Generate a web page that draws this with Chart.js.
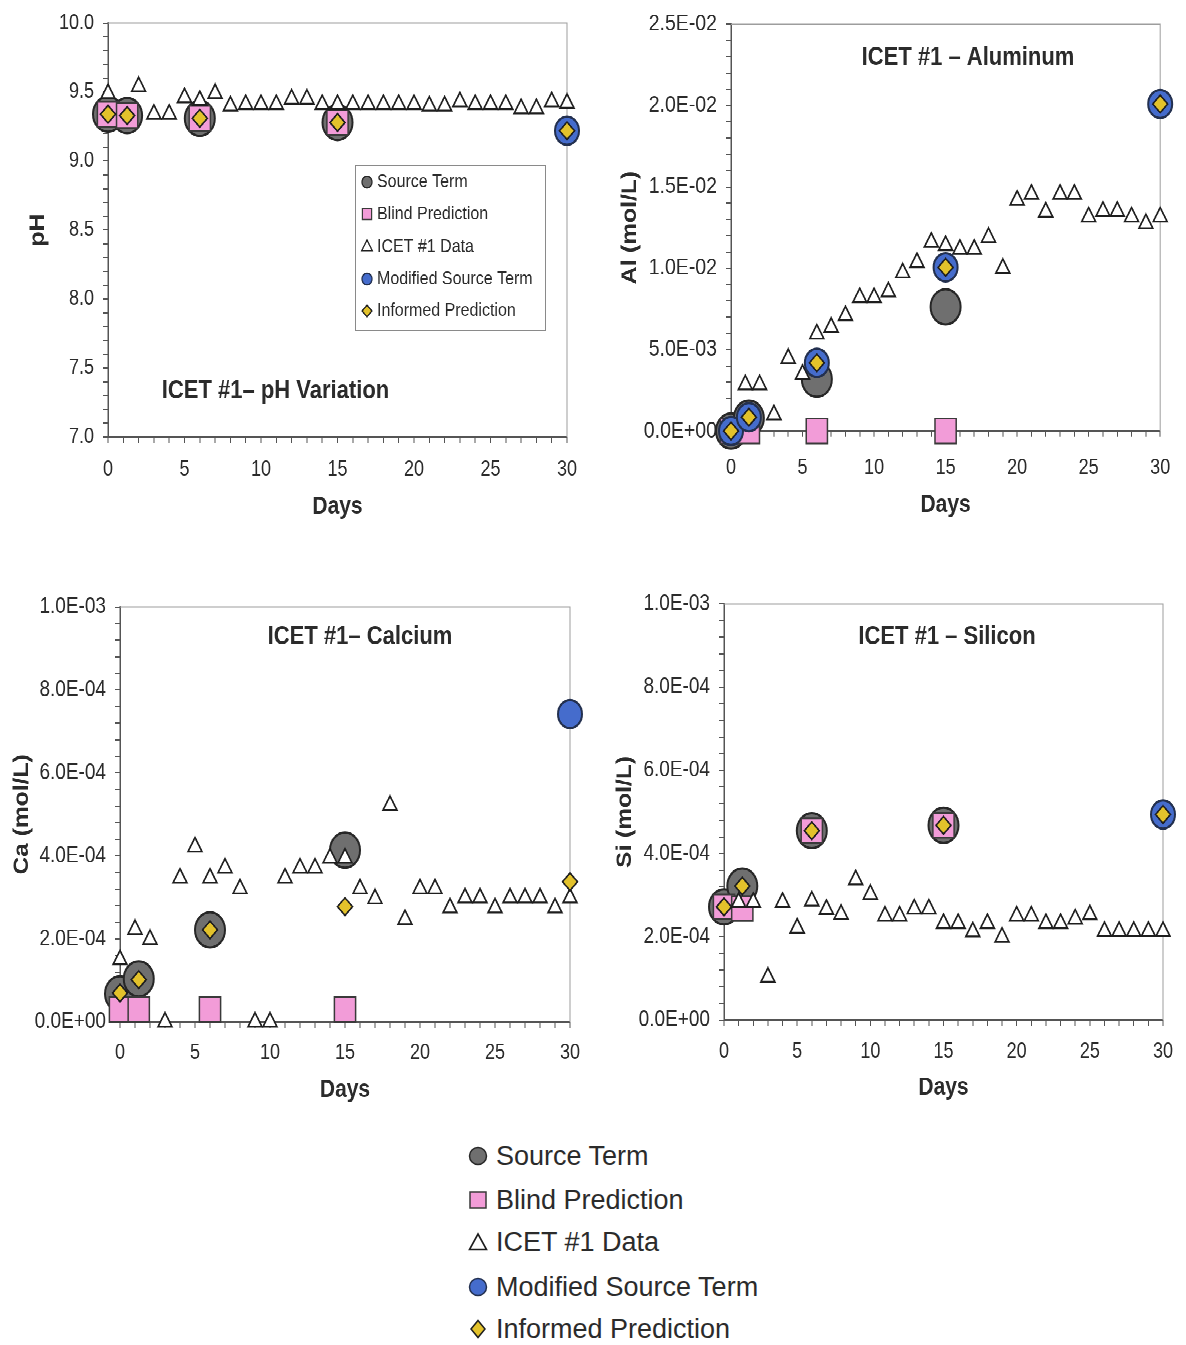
<!DOCTYPE html>
<html>
<head>
<meta charset="utf-8">
<title>ICET #1 – Chemistry Predictions</title>
<script src="https://cdn.jsdelivr.net/npm/chart.js@4.4.1/dist/chart.umd.min.js"></script>
<style>
  html, body { margin: 0; padding: 0; background: #fff; }
  body { width: 1186px; height: 1345px; overflow: hidden; position: relative;
         font-family: 'Liberation Sans', Arial, sans-serif; color: #2b2b2b; }
  /* the four panels are drawn slightly taller than wide (vertical stretch) */
  #panels { position: absolute; left: 0; top: 0; width: 1186px; height: 958px;
            transform: scaleY(1.17); transform-origin: 0 0; }
  #panels canvas { position: absolute; }
  #legend { position: absolute; left: 0; top: 0; }
  .lg-row { position: absolute; left: 468px; height: 30px; display: flex; align-items: center;
            white-space: nowrap; font-size: 27px; color: #2b2b2b; }
  .lg-row svg { width: 20px; height: 20px; margin-right: 8px; flex: none; }
</style>
</head>
<body>
<div id="panels">
  <canvas id="phChart" width="600" height="453"></canvas>
  <canvas id="alChart" width="586" height="453"></canvas>
  <canvas id="caChart" width="600" height="496"></canvas>
  <canvas id="siChart" width="586" height="496"></canvas>
</div>
<div id="legend"></div>

<script>
// ---------------- data ----------------
const seriesNames = ['Source Term', 'Blind Prediction', 'ICET #1 Data', 'Modified Source Term', 'Informed Prediction'];

const predictionDays = [0, 1.25, 6, 15];
const informedDays = [0, 1.25, 6, 15, 30];
const finalDay = [30];

const dailyFrom0 = [0,1,2,3,4,5,6,7,8,9,10,11,12,13,14,15,16,17,18,19,20,21,22,23,24,25,26,27,28,29,30];
const dailyFrom1 = [1,2,3,4,5,6,7,8,9,10,11,12,13,14,15,16,17,18,19,20,21,22,23,24,25,26,27,28,29,30];

// pH
const phDataDays = [0,2,3,4,5,6,7,8,9,10,11,12,13,14,15,16,17,18,19,20,21,22,23,24,25,26,27,28,29,30];
const phData = [9.49,9.54,9.34,9.34,9.46,9.44,9.49,9.40,9.41,9.41,9.41,9.45,9.45,9.41,9.41,9.41,9.41,9.41,9.41,9.41,9.40,9.40,9.43,9.41,9.41,9.41,9.38,9.38,9.43,9.42];
const phSource = [9.34, 9.33, 9.31, 9.28];
const phBlind = [9.34, 9.33, 9.31, 9.28];
const phModifiedDays = finalDay;
const phModified = [9.22];
const phInformed = [9.34, 9.33, 9.31, 9.28, 9.22];

// Aluminum (mol/L)
const alDataDays = dailyFrom1;
const alData = [0.00284,0.00284,0.00100,0.00446,0.00348,0.00597,0.00638,0.00709,0.00820,0.00820,
                0.00855,0.00972,0.01036,0.01160,0.01140,0.01117,0.01117,0.01190,0.01000,0.01419,
                0.01455,0.01346,0.01455,0.01455,0.01316,0.01350,0.01350,0.01316,0.01275,0.01316];
const alSource = [0, 0.00080, 0.00318, 0.00763];
const alBlind = [0, 0, 0, 0];
const alModifiedDays = informedDays;
const alModified = [0, 0.00085, 0.00419, 0.01006, 0.02010];
const alInformed = [0, 0.00085, 0.00419, 0.01006, 0.02010];

// Calcium (mol/L)
const caDataDays = dailyFrom0;
const caData = [1.50e-4,2.23e-4,1.99e-4,0,3.47e-4,4.22e-4,3.47e-4,3.71e-4,3.21e-4,0,0,
                3.47e-4,3.71e-4,3.71e-4,3.95e-4,3.95e-4,3.21e-4,2.97e-4,5.22e-4,2.47e-4,3.21e-4,
                3.21e-4,2.75e-4,2.99e-4,2.99e-4,2.75e-4,2.99e-4,2.99e-4,2.99e-4,2.75e-4,2.99e-4];
const caSource = [0.68e-4, 1.04e-4, 2.22e-4, 4.14e-4];
const caBlind = [0.3e-4, 0.3e-4, 0.3e-4, 0.3e-4];
const caModifiedDays = finalDay;
const caModified = [7.42e-4];
const caInformed = [0.70e-4, 1.02e-4, 2.22e-4, 2.78e-4, 3.38e-4];

// Silicon (mol/L)
const siDataDays = dailyFrom1;
const siData = [2.83e-4,2.83e-4,1.03e-4,2.83e-4,2.21e-4,2.86e-4,2.66e-4,2.54e-4,3.37e-4,3.02e-4,
                2.50e-4,2.50e-4,2.67e-4,2.67e-4,2.32e-4,2.32e-4,2.12e-4,2.32e-4,1.99e-4,2.50e-4,
                2.50e-4,2.32e-4,2.32e-4,2.43e-4,2.53e-4,2.13e-4,2.13e-4,2.13e-4,2.13e-4,2.13e-4];
const siSource = [2.72e-4, 3.22e-4, 4.55e-4, 4.68e-4];
const siBlind = [2.72e-4, 2.68e-4, 4.55e-4, 4.68e-4];
const siModifiedDays = finalDay;
const siModified = [4.94e-4];
const siInformed = [2.72e-4, 3.22e-4, 4.55e-4, 4.68e-4, 4.94e-4];

// ---------------- styles ----------------
const FONT = "'Liberation Sans', Arial, sans-serif";
const TEXT = '#2b2b2b';
const AXIS = '#555555';

const markerStyles = [
  { pointStyle: 'circle',   radius: 15,  fill: '#6f6f6f', stroke: '#272727', width: 2,   order: 5 },
  { pointStyle: 'rect',     radius: 15,  fill: '#f29cd8', stroke: '#3a3a3a', width: 1.5, order: 4 },
  { pointStyle: 'triangle', radius: 8,   fill: '#ffffff', stroke: '#1e1e1e', width: 1.6, order: 3 },
  { pointStyle: 'circle',   radius: 12,  fill: '#456ccc', stroke: '#23304f', width: 2,   order: 2 },
  { pointStyle: 'rectRot',  radius: 7.5, fill: '#e3c22b', stroke: '#1e1e1e', width: 1.5, order: 1 }
];

function pts(xs, ys) { return xs.map((x, i) => ({ x: x, y: ys[i] })); }

function makeDataset(k, data) {
  const s = markerStyles[k];
  return {
    label: seriesNames[k], data: data, order: s.order, clip: false, showLine: false,
    pointStyle: s.pointStyle, pointRadius: s.radius, pointHoverRadius: s.radius,
    pointBackgroundColor: s.fill, pointBorderColor: s.stroke, pointBorderWidth: s.width,
    pointHoverBorderWidth: s.width
  };
}

function sci(v) {
  if (Math.abs(v) < 1e-12) return '0.0E+00';
  let e = Math.floor(Math.log10(Math.abs(v)) + 1e-9);
  let m = (v / Math.pow(10, e)).toFixed(1);
  if (m === '10.0') { e += 1; m = '1.0'; }
  return m + 'E' + (e < 0 ? '-' : '+') + String(Math.abs(e)).padStart(2, '0');
}
const isMultiple = (v, step) => Math.abs(v / step - Math.round(v / step)) < 1e-6;

function drawMarker(ctx, k, x, y, r) {
  const s = markerStyles[k];
  ctx.save();
  ctx.beginPath();
  if (s.pointStyle === 'circle') {
    ctx.arc(x, y, r, 0, Math.PI * 2);
  } else if (s.pointStyle === 'rect') {
    const h = r * Math.SQRT1_2;
    ctx.rect(x - h, y - h, 2 * h, 2 * h);
  } else if (s.pointStyle === 'triangle') {
    ctx.moveTo(x, y - r);
    ctx.lineTo(x + r * 0.866, y + r * 0.5);
    ctx.lineTo(x - r * 0.866, y + r * 0.5);
    ctx.closePath();
  } else {
    ctx.moveTo(x - r, y); ctx.lineTo(x, y - r); ctx.lineTo(x + r, y); ctx.lineTo(x, y + r);
    ctx.closePath();
  }
  ctx.fillStyle = s.fill; ctx.fill();
  ctx.lineWidth = 1.2; ctx.strokeStyle = s.stroke; ctx.stroke();
  ctx.restore();
}

// frame on top/right, panel title, and the small legend of the pH panel
const panelDecor = {
  id: 'panelDecor',
  beforeDatasetsDraw(chart) {
    const { ctx, chartArea: a } = chart;
    ctx.save();
    ctx.strokeStyle = '#9d9d9d';
    ctx.lineWidth = 1;
    ctx.beginPath();
    ctx.moveTo(a.left, a.top); ctx.lineTo(a.right, a.top); ctx.lineTo(a.right, a.bottom);
    ctx.stroke();
    ctx.restore();
  },
  afterDatasetsDraw(chart, args, opts) {
    const ctx = chart.ctx;
    ctx.save();
    ctx.fillStyle = TEXT;
    ctx.font = 'bold 22px ' + FONT;
    ctx.textAlign = 'center';
    ctx.textBaseline = 'middle';
    ctx.fillText(opts.title, opts.titleX, opts.titleY);
    if (opts.legend) {
      const L = opts.legend;
      ctx.fillStyle = '#ffffff';
      ctx.fillRect(L.x, L.y, L.w, L.h);
      ctx.strokeStyle = '#8a8a8a';
      ctx.lineWidth = 1;
      ctx.strokeRect(L.x + 0.5, L.y + 0.5, L.w, L.h);
      ctx.font = '16px ' + FONT;
      ctx.textAlign = 'left';
      seriesNames.forEach((name, k) => {
        const yy = L.rows[k];
        drawMarker(ctx, k, L.markerX, yy, k === 1 ? 6.5 : (k === 2 ? 6 : 5));
        ctx.fillStyle = TEXT;
        ctx.fillText(name, L.textX, yy);
      });
    }
    ctx.restore();
  }
};

// ---------------- layout of each panel ----------------
const panelLayout = {
  ph: { left: 0,   top: 0,   yAxisW: 108, padTop: 17.9, padRight: 33, xAxisH: 79.5, xTickPad: 12.4, xTitlePad: 7.1,  yTitlePad: 25.4, titleX: 275.5, titleY: 334.2, yTickSize: 18 },
  al: { left: 600, top: 0,   yAxisW: 131, padTop: 15.4, padRight: 17, xAxisH: 84.6, xTickPad: 15.8, xTitlePad: 8.8,  yTitlePad: 17.4, titleX: 368,   titleY: 49.5,  yTickSize: 19.5 },
  ca: { left: 0,   top: 462, yAxisW: 120, padTop: 56.8, padRight: 30, xAxisH: 84.5, xTickPad: 10.7, xTitlePad: 13.8, yTitlePad: 9.4,  titleX: 360,   titleY: 82.4,  yTickSize: 19 },
  si: { left: 600, top: 462, yAxisW: 124, padTop: 54.2, padRight: 23, xAxisH: 86.2, xTickPad: 11.5, xTitlePad: 15.5, yTitlePad: 12.4, titleX: 347,   titleY: 82.4,  yTickSize: 19 }
};

const phLegendBox = { x: 355, y: 141, w: 190, h: 141, markerX: 367, textX: 377,
                      rows: [155.6, 182.9, 211.1, 238.5, 265.8] };

Chart.defaults.font.family = FONT;
Chart.defaults.color = TEXT;

function buildPanel(id, key, spec) {
  const lay = panelLayout[key];
  const canvas = document.getElementById(id);
  canvas.style.left = lay.left + 'px';
  canvas.style.top = lay.top + 'px';

  const datasets = [
    makeDataset(0, pts(predictionDays, spec.source)),
    makeDataset(1, pts(predictionDays, spec.blind)),
    makeDataset(2, pts(spec.dataDays, spec.data)),
    makeDataset(3, pts(spec.modifiedDays, spec.modified)),
    makeDataset(4, pts(informedDays, spec.informed))
  ];

  return new Chart(canvas, {
    type: 'scatter',
    data: { datasets: datasets },
    plugins: [panelDecor],
    options: {
      responsive: false,
      devicePixelRatio: 2,
      animation: false,
      events: [],
      layout: { padding: { left: 0, top: lay.padTop, right: lay.padRight, bottom: 0 } },
      plugins: {
        legend: { display: false },
        tooltip: { enabled: false },
        panelDecor: { title: spec.title, titleX: lay.titleX, titleY: lay.titleY, legend: spec.legend || null }
      },
      scales: {
        x: {
          type: 'linear', min: 0, max: 30,
          afterFit: (s) => { s.height = lay.xAxisH; },
          ticks: {
            stepSize: 1, autoSkip: false, maxRotation: 0, minRotation: 0,
            padding: lay.xTickPad, color: TEXT, font: { size: 18 },
            callback: (v) => (v % 5 === 0 ? String(v) : '')
          },
          grid: { drawOnChartArea: false, drawTicks: true, tickLength: 5, tickColor: AXIS, tickWidth: 1 },
          border: { display: true, color: AXIS, width: 1.5 },
          title: { display: true, text: 'Days', color: TEXT, font: { size: 21, weight: 'bold' },
                   padding: { top: 0, bottom: lay.xTitlePad } }
        },
        y: {
          type: 'linear', min: spec.yMin, max: spec.yMax,
          afterFit: (s) => { s.width = lay.yAxisW; },
          ticks: {
            stepSize: spec.yMinor, autoSkip: false, padding: 9, color: TEXT, font: { size: lay.yTickSize },
            callback: (v) => (isMultiple(v - spec.yMin, spec.yMajor) ? spec.fmt(v) : '')
          },
          grid: { drawOnChartArea: false, drawTicks: true, tickLength: 5, tickColor: AXIS, tickWidth: 1 },
          border: { display: true, color: AXIS, width: 1.5 },
          title: { display: true, text: spec.yTitle, color: TEXT, font: { size: 21, weight: 'bold' },
                   padding: { top: lay.yTitlePad, bottom: 0 } }
        }
      }
    }
  });
}

buildPanel('phChart', 'ph', {
  title: 'ICET #1– pH Variation', yTitle: 'pH',
  yMin: 7, yMax: 10, yMajor: 0.5, yMinor: 0.1, fmt: (v) => v.toFixed(1),
  dataDays: phDataDays, data: phData, source: phSource, blind: phBlind,
  modifiedDays: phModifiedDays, modified: phModified, informed: phInformed,
  legend: phLegendBox
});

buildPanel('alChart', 'al', {
  title: 'ICET #1 – Aluminum', yTitle: 'Al (mol/L)',
  yMin: 0, yMax: 0.025, yMajor: 0.005, yMinor: 0.001, fmt: sci,
  dataDays: alDataDays, data: alData, source: alSource, blind: alBlind,
  modifiedDays: alModifiedDays, modified: alModified, informed: alInformed
});

buildPanel('caChart', 'ca', {
  title: 'ICET #1– Calcium', yTitle: 'Ca (mol/L)',
  yMin: 0, yMax: 0.001, yMajor: 0.0002, yMinor: 0.00004, fmt: sci,
  dataDays: caDataDays, data: caData, source: caSource, blind: caBlind,
  modifiedDays: caModifiedDays, modified: caModified, informed: caInformed
});

buildPanel('siChart', 'si', {
  title: 'ICET #1 – Silicon', yTitle: 'Si (mol/L)',
  yMin: 0, yMax: 0.001, yMajor: 0.0002, yMinor: 0.00004, fmt: sci,
  dataDays: siDataDays, data: siData, source: siSource, blind: siBlind,
  modifiedDays: siModifiedDays, modified: siModified, informed: siInformed
});

// ---------------- shared legend below the panels ----------------
const legendRowsY = [1156, 1200, 1242, 1287, 1329];
function legendSvg(k) {
  const s = markerStyles[k];
  let shape;
  if (k === 0 || k === 3) shape = `<circle cx="10" cy="10" r="8.5" fill="${s.fill}" stroke="${s.stroke}" stroke-width="1.5"/>`;
  else if (k === 1) shape = `<rect x="2" y="2" width="16" height="16" fill="${s.fill}" stroke="${s.stroke}" stroke-width="1.5"/>`;
  else if (k === 2) shape = `<polygon points="10,2 18.5,17.5 1.5,17.5" fill="${s.fill}" stroke="${s.stroke}" stroke-width="1.6"/>`;
  else shape = `<polygon points="10,1.5 17,10 10,18.5 3,10" fill="${s.fill}" stroke="${s.stroke}" stroke-width="1.5"/>`;
  return `<svg viewBox="0 0 20 20">${shape}</svg>`;
}
const legendEl = document.getElementById('legend');
seriesNames.forEach((name, k) => {
  const row = document.createElement('div');
  row.className = 'lg-row';
  row.style.top = (legendRowsY[k] - 15) + 'px';
  row.innerHTML = legendSvg(k) + '<span>' + name + '</span>';
  legendEl.appendChild(row);
});
</script>
</body>
</html>
